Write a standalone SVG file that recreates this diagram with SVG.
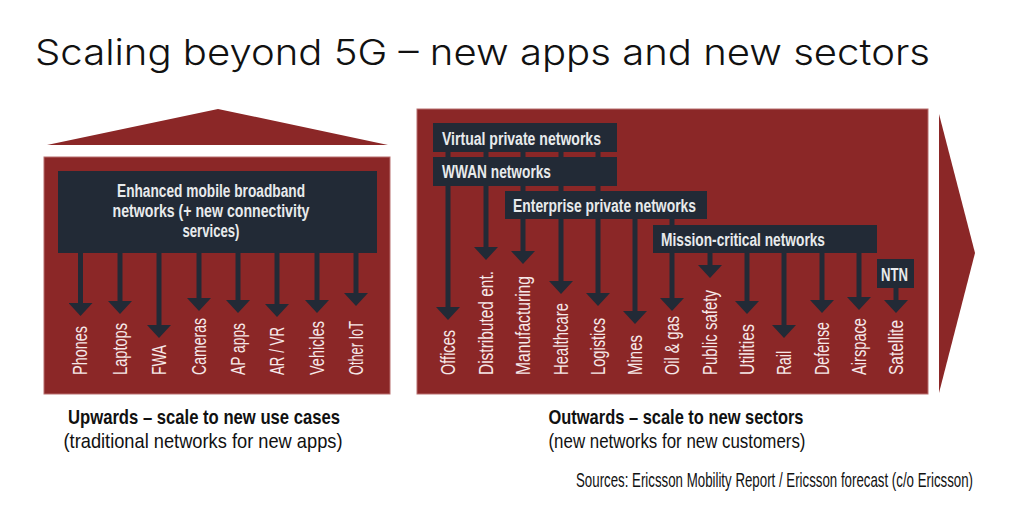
<svg xmlns="http://www.w3.org/2000/svg" width="1024" height="516" viewBox="0 0 1024 516">
<style>
.panel{fill:#8b2727;stroke:#b86e6e;stroke-width:1}
.box{fill:#222a36}
.stem{stroke:#222a36;stroke-width:5;fill:none;marker-end:url(#head)}
.bt{font-family:"Liberation Sans Narrow","Liberation Sans",sans-serif;font-weight:bold;font-size:18px;fill:#e8eaec}
.lab{font-family:"Liberation Sans Narrow","Liberation Sans",sans-serif;font-size:20px;fill:#f6e8e8}
.cap{font-family:"Liberation Sans Narrow","Liberation Sans",sans-serif;font-size:21px;fill:#111}
.title{font-family:Inter,"Open Sans",sans-serif;font-weight:300;font-size:36px;fill:#111}
</style>
<defs>
<marker id="head" markerUnits="userSpaceOnUse" viewBox="0 -12 13 24" markerWidth="13" markerHeight="24" refX="0" refY="0" orient="auto">
<path d="M0,-12 L13,0 L0,12 z" fill="#222a36"/>
</marker>
</defs>
<rect width="1024" height="516" fill="#fff"/>
<text class="title" x="35" y="65" textLength="895" lengthAdjust="spacingAndGlyphs">Scaling beyond 5G – new apps and new sectors</text>

<g id="left-panel">
<polygon points="218,109 388,145 47,145" fill="#8b2727"/>
<rect class="panel" x="44" y="157" width="346" height="237"/>
</g>
<g id="right-panel">
<rect class="panel" x="417" y="109" width="511" height="285"/>
<polygon points="939,114 975,253 939,393" fill="#8b2727"/>
</g>

<g id="connectors">
<path class="stem" d="M80.5,240 V303"/>
<path class="stem" d="M120,240 V301"/>
<path class="stem" d="M159,240 V325"/>
<path class="stem" d="M199,240 V298"/>
<path class="stem" d="M238,240 V300"/>
<path class="stem" d="M277,240 V304"/>
<path class="stem" d="M317,240 V300"/>
<path class="stem" d="M356,240 V293"/>

<path class="stem" d="M448,137 V307"/>
<path class="stem" d="M486,137 V247"/>
<path class="stem" d="M523,137 V251"/>
<path class="stem" d="M561,137 V281"/>
<path class="stem" d="M598,137 V293"/>
<path class="stem" d="M635,205 V311"/>
<path class="stem" d="M672,205 V298"/>
<path class="stem" d="M710,239 V265"/>
<path class="stem" d="M747,239 V301"/>
<path class="stem" d="M784,239 V325"/>
<path class="stem" d="M822,239 V300"/>
<path class="stem" d="M859,239 V297"/>
<path class="stem" d="M896,273 V300"/>
</g>

<g id="embb">
<rect class="box" x="58" y="171" width="319" height="82"/>
<text class="bt" x="211" y="197" text-anchor="middle" textLength="188" lengthAdjust="spacingAndGlyphs">Enhanced mobile broadband</text>
<text class="bt" x="211" y="217" text-anchor="middle" textLength="197" lengthAdjust="spacingAndGlyphs">networks (+ new connectivity</text>
<text class="bt" x="211" y="237" text-anchor="middle" textLength="57" lengthAdjust="spacingAndGlyphs">services)</text>
</g>
<g id="vpn">
<rect class="box" x="433" y="123" width="184" height="29"/>
<text class="bt" x="442" y="145" textLength="159" lengthAdjust="spacingAndGlyphs">Virtual private networks</text>
</g>
<g id="wwan">
<rect class="box" x="433" y="157" width="184" height="29"/>
<text class="bt" x="442" y="178" textLength="109" lengthAdjust="spacingAndGlyphs">WWAN networks</text>
</g>
<g id="enterprise">
<rect class="box" x="505" y="191" width="202" height="28"/>
<text class="bt" x="513" y="212" textLength="183" lengthAdjust="spacingAndGlyphs">Enterprise private networks</text>
</g>
<g id="mission">
<rect class="box" x="653" y="225" width="224" height="28"/>
<text class="bt" x="661" y="246" textLength="164" lengthAdjust="spacingAndGlyphs">Mission-critical networks</text>
</g>
<g id="ntn">
<rect class="box" x="877" y="259" width="37" height="29"/>
<text class="bt" x="881" y="281" textLength="27" lengthAdjust="spacingAndGlyphs">NTN</text>
</g>

<g id="left-labels">
<text class="lab" transform="translate(87,375) rotate(-90)" textLength="49" lengthAdjust="spacingAndGlyphs">Phones</text>
<text class="lab" transform="translate(126.5,375) rotate(-90)" textLength="52" lengthAdjust="spacingAndGlyphs">Laptops</text>
<text class="lab" transform="translate(165.5,375) rotate(-90)" textLength="30" lengthAdjust="spacingAndGlyphs">FWA</text>
<text class="lab" transform="translate(205.5,375) rotate(-90)" textLength="57" lengthAdjust="spacingAndGlyphs">Cameras</text>
<text class="lab" transform="translate(244.5,375) rotate(-90)" textLength="52" lengthAdjust="spacingAndGlyphs">AP apps</text>
<text class="lab" transform="translate(283.5,375) rotate(-90)" textLength="48" lengthAdjust="spacingAndGlyphs">AR / VR</text>
<text class="lab" transform="translate(323.5,375) rotate(-90)" textLength="54" lengthAdjust="spacingAndGlyphs">Vehicles</text>
<text class="lab" transform="translate(362.5,375) rotate(-90)" textLength="54" lengthAdjust="spacingAndGlyphs">Other IoT</text>
</g>

<g id="right-labels">
<text class="lab" transform="translate(454.5,375) rotate(-90)" textLength="45" lengthAdjust="spacingAndGlyphs">Offices</text>
<text class="lab" transform="translate(492.5,375) rotate(-90)" textLength="104" lengthAdjust="spacingAndGlyphs">Distributed ent.</text>
<text class="lab" transform="translate(529.5,375) rotate(-90)" textLength="99" lengthAdjust="spacingAndGlyphs">Manufacturing</text>
<text class="lab" transform="translate(567.5,375) rotate(-90)" textLength="72" lengthAdjust="spacingAndGlyphs">Healthcare</text>
<text class="lab" transform="translate(604.5,375) rotate(-90)" textLength="57" lengthAdjust="spacingAndGlyphs">Logistics</text>
<text class="lab" transform="translate(641.5,375) rotate(-90)" textLength="40" lengthAdjust="spacingAndGlyphs">Mines</text>
<text class="lab" transform="translate(678.5,375) rotate(-90)" textLength="59" lengthAdjust="spacingAndGlyphs">Oil &amp; gas</text>
<text class="lab" transform="translate(716.5,375) rotate(-90)" textLength="85" lengthAdjust="spacingAndGlyphs">Public safety</text>
<text class="lab" transform="translate(753.5,375) rotate(-90)" textLength="51" lengthAdjust="spacingAndGlyphs">Utilities</text>
<text class="lab" transform="translate(790.5,375) rotate(-90)" textLength="24" lengthAdjust="spacingAndGlyphs">Rail</text>
<text class="lab" transform="translate(828.5,375) rotate(-90)" textLength="53" lengthAdjust="spacingAndGlyphs">Defense</text>
<text class="lab" transform="translate(865.5,375) rotate(-90)" textLength="57" lengthAdjust="spacingAndGlyphs">Airspace</text>
<text class="lab" transform="translate(902.5,375) rotate(-90)" textLength="55" lengthAdjust="spacingAndGlyphs">Satellite</text>
</g>

<g id="captions">
<text class="cap" x="204" y="424" text-anchor="middle" font-weight="bold" textLength="272" lengthAdjust="spacingAndGlyphs">Upwards – scale to new use cases</text>
<text class="cap" x="203" y="448" text-anchor="middle" textLength="279" lengthAdjust="spacingAndGlyphs">(traditional networks for new apps)</text>
<text class="cap" x="676" y="424" text-anchor="middle" font-weight="bold" textLength="255" lengthAdjust="spacingAndGlyphs">Outwards – scale to new sectors</text>
<text class="cap" x="677" y="448" text-anchor="middle" textLength="257" lengthAdjust="spacingAndGlyphs">(new networks for new customers)</text>
<text class="cap" x="576" y="487" font-size="17" textLength="397" lengthAdjust="spacingAndGlyphs">Sources: Ericsson Mobility Report / Ericsson forecast (c/o Ericsson)</text>
</g>
</svg>
